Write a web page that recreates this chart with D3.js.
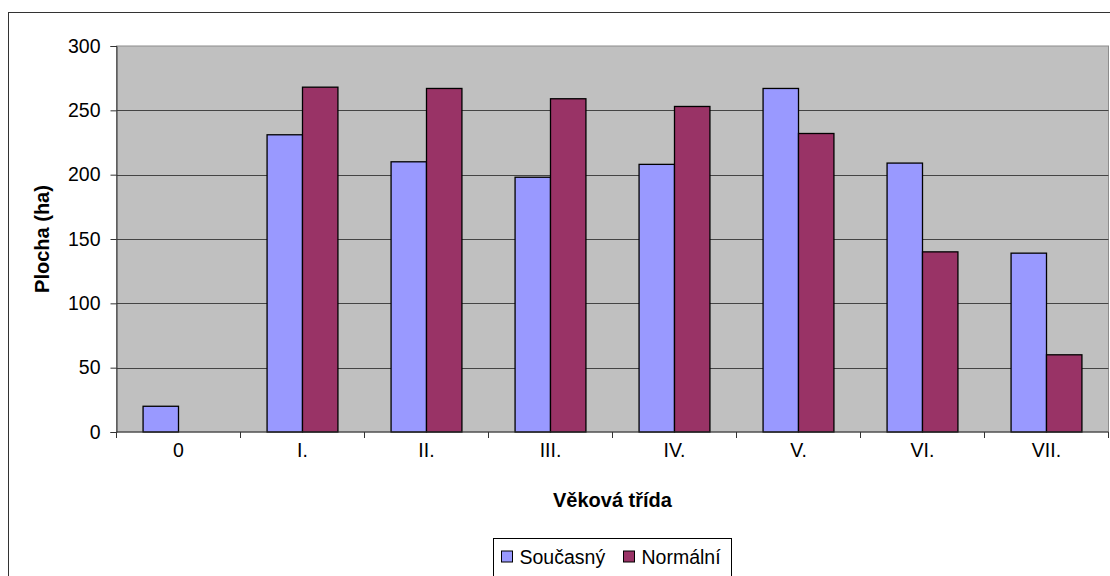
<!DOCTYPE html>
<html>
<head>
<meta charset="utf-8">
<script src="https://cdn.jsdelivr.net/npm/d3@7"></script>
<style>
  html, body { margin: 0; padding: 0; background: #fff; }
  svg { display: block; font-family: "Liberation Sans", Arial, sans-serif; }
</style>
</head>
<body>
<svg id="chart" width="1110" height="576"></svg>
<script>
// Věkové třídy a plochy (ha)
const categories = ["0", "I.", "II.", "III.", "IV.", "V.", "VI.", "VII."];
const soucasny = [20, 231, 210, 198, 208, 267, 209, 139];
const normalni = [null, 268, 267, 259, 253, 232, 140, 60];
const seriesNames = ["Současný", "Normální"];
const seriesColors = ["#9999FF", "#993366"];
const yTicks = [0, 50, 100, 150, 200, 250, 300];

const FONT = 19.5;
const TITLE_FONT = 20;
const svg = d3.select("#chart");

// chart frame
svg.append("rect")
  .attr("x", 8.5).attr("y", 12.5)
  .attr("width", 1110).attr("height", 580)
  .attr("fill", "#fff").attr("stroke", "#333").attr("stroke-width", 1);

const plot = { left: 116.5, right: 1108.5, top: 46, bottom: 432 };

const x = d3.scaleBand().domain(categories).range([plot.left, plot.right]).padding(0);
const xs = d3.scaleBand().domain([0, 1]).range([0, x.bandwidth()])
  .paddingInner(0).paddingOuter(0.75);
const y = d3.scaleLinear().domain([0, 300]).range([plot.bottom, plot.top]);

// plot background
svg.append("rect")
  .attr("x", plot.left).attr("y", plot.top)
  .attr("width", plot.right - plot.left).attr("height", plot.bottom - plot.top)
  .attr("fill", "#C0C0C0").attr("stroke", "#8c8c8c").attr("stroke-width", 1);

// gridlines
svg.append("g")
  .selectAll("line")
  .data(yTicks.filter(t => t > 0 && t < 300))
  .join("line")
  .attr("x1", plot.left).attr("x2", plot.right)
  .attr("y1", d => Math.round(y(d)) + 0.5).attr("y2", d => Math.round(y(d)) + 0.5)
  .attr("stroke", "#444").attr("stroke-width", 1);

// bars
const rows = categories.map((c, i) => ({ c, vals: [soucasny[i], normalni[i]] }));
const groups = svg.append("g").selectAll("g")
  .data(rows).join("g")
  .attr("transform", d => `translate(${x(d.c)},0)`);

groups.selectAll("rect")
  .data(d => d.vals.map((v, k) => ({ v, k })).filter(e => e.v != null))
  .join("rect")
  .attr("x", e => xs(e.k))
  .attr("y", e => y(e.v))
  .attr("width", xs.bandwidth())
  .attr("height", e => y(0) - y(e.v))
  .attr("fill", e => seriesColors[e.k])
  .attr("stroke", "#000").attr("stroke-width", 1.3);

// y axis
const yAxis = d3.axisLeft(y).tickValues(yTicks).tickSize(6).tickPadding(10);
const gy = svg.append("g").attr("transform", `translate(${plot.left},0)`).call(yAxis);
gy.select(".domain").attr("stroke", "#333");
gy.selectAll(".tick line").attr("stroke", "#333");
gy.selectAll("text").attr("font-size", FONT).attr("fill", "#000")
  .attr("font-family", "Liberation Sans, Arial, sans-serif");

// x axis with ticks at category boundaries
const gx = svg.append("g").attr("transform", `translate(0,${plot.bottom})`);
gx.append("line").attr("x1", plot.left).attr("x2", plot.right)
  .attr("y1", 0).attr("y2", 0).attr("stroke", "#333");
gx.selectAll("line.tk")
  .data(categories.map(c => x(c)).concat([plot.right]))
  .join("line").attr("class", "tk")
  .attr("x1", d => d).attr("x2", d => d)
  .attr("y1", 0).attr("y2", 6).attr("stroke", "#333");
gx.selectAll("text")
  .data(categories).join("text")
  .attr("x", d => x(d) + x.bandwidth() / 2)
  .attr("y", 25)
  .attr("text-anchor", "middle")
  .attr("font-size", FONT).attr("fill", "#000")
  .text(d => d);

// axis titles
svg.append("text")
  .attr("x", (plot.left + plot.right) / 2).attr("y", 507)
  .attr("text-anchor", "middle").attr("font-size", TITLE_FONT).attr("font-weight", "bold")
  .text("Věková třída");
svg.append("text")
  .attr("transform", `translate(49,${(plot.top + plot.bottom) / 2}) rotate(-90)`)
  .attr("text-anchor", "middle").attr("font-size", TITLE_FONT).attr("font-weight", "bold")
  .text("Plocha (ha)");

// legend
const lg = svg.append("g").attr("transform", "translate(493.5,538.5)");
lg.append("rect").attr("width", 238).attr("height", 45)
  .attr("fill", "#fff").attr("stroke", "#000");
const items = lg.selectAll("g").data(seriesNames).join("g")
  .attr("transform", (d, i) => `translate(${i === 0 ? 8 : 130},0)`);
items.append("rect").attr("x", 0).attr("y", 12.5).attr("width", 11).attr("height", 11)
  .attr("fill", (d, i) => seriesColors[i]).attr("stroke", "#000");
items.append("text").attr("x", 18).attr("y", 25)
  .attr("font-size", FONT).text(d => d);
</script>
</body>
</html>
